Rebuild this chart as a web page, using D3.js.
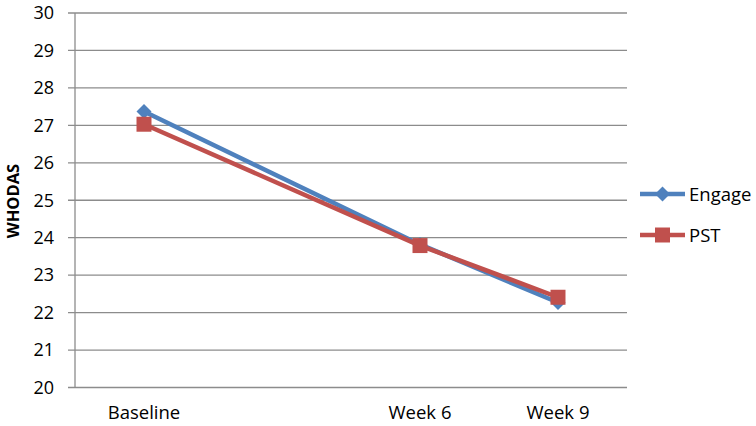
<!DOCTYPE html>
<html>
<head>
<meta charset="utf-8">
<script src="https://cdn.jsdelivr.net/npm/d3@7"></script>
<style>
  body { margin: 0; background: #fff; }
  text { font-family: "Open Sans", "Noto Sans", sans-serif; fill: #000; }
</style>
</head>
<body>
<svg id="canvas" width="756" height="426"></svg>
<script>
// dati
const settimane = [0, 6, 9];
const etichetteX = ["Baseline", "Week 6", "Week 9"];
const engage = [27.37, 23.82, 22.27];
const pst = [27.03, 23.79, 22.41];
const tickY = [20, 21, 22, 23, 24, 25, 26, 27, 28, 29, 30];

const serie = [
  { nome: "Engage", valori: engage, colore: "#4F81BD", simbolo: "diamond" },
  { nome: "PST", valori: pst, colore: "#C0504D", simbolo: "square" }
];

let svg = d3.select("#canvas");

const scalaX = d3.scaleLinear().domain([-1.5, 10.5]).range([75, 627]);
const scalaY = d3.scaleLinear().domain([20, 30]).range([387.5, 13]);

// griglia
svg.append("g")
  .selectAll("line")
  .data(tickY)
  .enter()
  .append("line")
  .attr("x1", 68)
  .attr("x2", 627)
  .attr("y1", d => scalaY(d))
  .attr("y2", d => scalaY(d))
  .attr("stroke", "#8c8c8c")
  .attr("stroke-width", 1.3);

// asse verticale
svg.append("line")
  .attr("x1", 75).attr("x2", 75)
  .attr("y1", scalaY(30)).attr("y2", scalaY(20))
  .attr("stroke", "#8c8c8c")
  .attr("stroke-width", 1.3);

svg.append("g")
  .selectAll("text")
  .data(tickY)
  .enter()
  .append("text")
  .attr("x", 54)
  .attr("y", d => scalaY(d) + 6.3)
  .attr("text-anchor", "end")
  .attr("font-size", 18)
  .text(d => d);

svg.append("g")
  .selectAll("text")
  .data(settimane)
  .enter()
  .append("text")
  .attr("x", d => scalaX(d))
  .attr("y", 419)
  .attr("text-anchor", "middle")
  .attr("font-size", 18.5)
  .text((d, i) => etichetteX[i]);

svg.append("text")
  .attr("transform", "translate(19,201) rotate(-90)")
  .attr("text-anchor", "middle")
  .attr("font-size", 16.5)
  .attr("font-weight", "bold")
  .text("WHODAS");

const linea = d3.line()
  .x((d, i) => scalaX(settimane[i]))
  .y(d => scalaY(d));

// simboli: rombo (quadrato ruotato) e quadrato
function formaSimbolo(tipo) {
  if (tipo === "diamond") return "M0,-7.5L7.5,0L0,7.5L-7.5,0Z";
  return "M-7.5,-7.5H7.5V7.5H-7.5Z";
}

serie.forEach(s => {
  const g = svg.append("g");
  g.append("path")
    .attr("d", linea(s.valori))
    .attr("fill", "none")
    .attr("stroke", s.colore)
    .attr("stroke-width", 4.5);
  g.selectAll("path.punto")
    .data(s.valori)
    .enter()
    .append("path")
    .attr("class", "punto")
    .attr("d", formaSimbolo(s.simbolo))
    .attr("fill", s.colore)
    .attr("transform", (d, i) => `translate(${scalaX(settimane[i])},${scalaY(d)})`);
});

// legenda
const legenda = svg.append("g")
  .selectAll("g")
  .data(serie)
  .enter()
  .append("g")
  .attr("transform", (d, i) => `translate(640,${194 + i * 41})`);

legenda.append("line")
  .attr("x1", 0).attr("x2", 45)
  .attr("stroke", d => d.colore)
  .attr("stroke-width", 4.5);

legenda.append("path")
  .attr("d", d => formaSimbolo(d.simbolo))
  .attr("fill", d => d.colore)
  .attr("transform", "translate(22.5,0)");

legenda.append("text")
  .attr("x", 49)
  .attr("y", 6.5)
  .attr("font-size", 18.5)
  .text(d => d.nome);
</script>
</body>
</html>
